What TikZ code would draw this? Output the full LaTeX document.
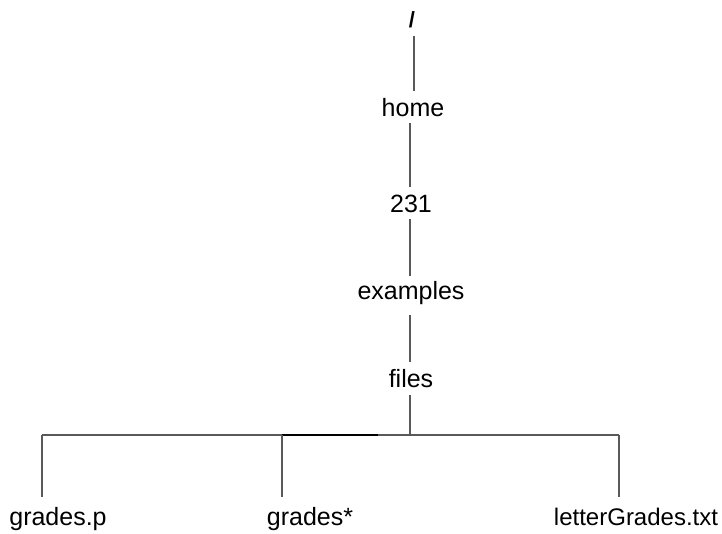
\documentclass[tikz,border=0pt]{standalone}
\usepackage{fontspec}
\setmainfont{Liberation Sans}
\begin{document}
\begin{tikzpicture}[x=1pt,y=-1pt,
  lbl/.style={font=\fontsize{25}{30}\selectfont, inner sep=0pt, anchor=base},
  rootlbl/.style={font=\fontsize{22}{24}\selectfont\bfseries, inner sep=0pt, anchor=base},
  conn/.style={draw=black!65, line width=1.2pt},
  darkconn/.style={draw=black, line width=1.2pt},
]
\useasboundingbox (0,0) rectangle (722,534);
\node[rootlbl] (root) at (412,28) {/};
\node[lbl] (home) at (413,117) {home};
\node[lbl] (n231) at (411,213) {231};
\node[lbl] (ex) at (411,299) {examples};
\node[lbl] (files) at (411,387) {files};
\node[lbl] (gp) at (58,525) {grades.p};
\node[lbl] (gs) at (310,525) {grades*};
\node[lbl, font=\fontsize{24}{30}\selectfont] (lg) at (636,525) {letterGrades.txt};
\coordinate (spine) at (410,0);
\coordinate (j) at (410,435);
\coordinate (bl) at (42,435);
\coordinate (bm) at (282,435);
\coordinate (bd) at (378,435);
\coordinate (br) at (619,435);
% vertical chain
\draw[conn, shorten <=7pt, shorten >=8pt] (root.south -| 414,0) -- (home.north -| 414,0);
\draw[conn, shorten <=6pt, shorten >=8pt] (home.south -| spine) -- (n231.north -| spine);
\draw[conn, shorten <=6pt, shorten >=5pt] (n231.south -| spine) -- (ex.north -| spine);
\draw[conn, shorten <=11pt, shorten >=7pt] (ex.south -| spine) -- (files.north -| spine);
\draw[conn, shorten <=8pt] (files.south -| spine) -- (j);
% bar
\draw[conn] (bl) -- (br);
\draw[darkconn] (bm) -- (bd);
% children
\draw[conn, shorten >=10pt] (bl) -- (gp.north -| bl);
\draw[conn, shorten >=10pt] (bm) -- (gs.north -| bm);
\draw[conn, shorten >=10pt] (br) -- (lg.north -| br);
\end{tikzpicture}
\end{document}
